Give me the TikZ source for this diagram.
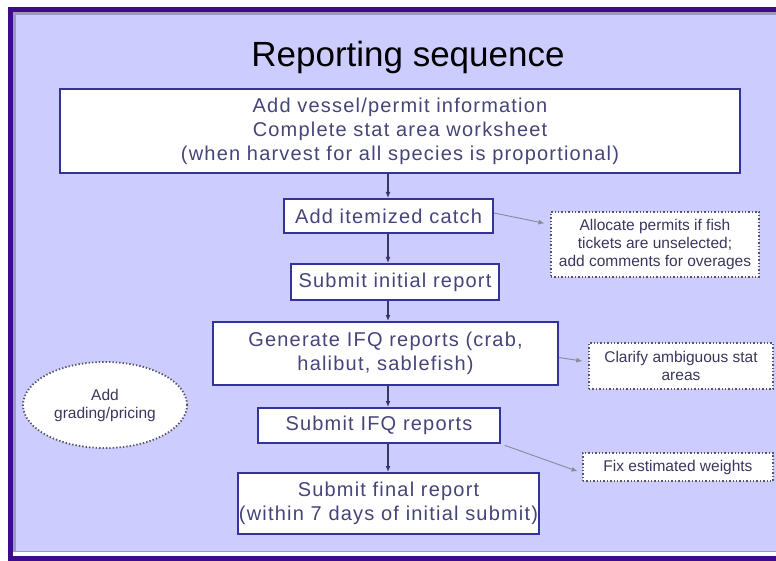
\documentclass[tikz,border=0pt]{standalone}
\usepackage{fontspec}
\setmainfont{Liberation Sans}
\newfontfamily\rsboxfont[LetterSpace=6]{Liberation Sans}
\usetikzlibrary{
  arrows.meta,
  shapes.geometric,
  positioning,
  calc
}
\definecolor{rsBack}{HTML}{CCCCFF}
\definecolor{rsFrame}{HTML}{3D0C8C}
\definecolor{rsShade}{HTML}{9C9AC0}
\definecolor{rsEdge}{HTML}{333399}
\definecolor{rsText}{HTML}{45457A}
\definecolor{rsNoteText}{HTML}{38385E}
\definecolor{rsDot}{HTML}{555566}
\definecolor{rsLink}{HTML}{8A8A9A}
\tikzset{
  rsnode/.style={
    draw=rsEdge, line width=2pt, fill=white, inner sep=0pt, align=center,
    text=rsText, font=\rsboxfont\fontsize{20}{24}\selectfont
  },
  rsnote/.style={
    draw=rsDot, line width=1.4pt, dotted, fill=white, inner sep=0pt, align=center,
    text=rsNoteText, font=\fontsize{15.5}{18}\selectfont
  },
  rsoval/.style={rsnote, ellipse, line width=1.8pt},
  flow/.style={-{Latex[length=6pt,width=5pt]}, line width=1.3pt, draw=rsText!80!black},
  hint/.style={-{Latex[length=6pt,width=5pt]}, line width=0.9pt, draw=rsLink}
}
\begin{document}
\begin{tikzpicture}[x=1pt, y=-1pt]
  \useasboundingbox (0,0) rectangle (776,561);
  % frame and slide background
  \fill[white] (0,0) rectangle (776,561);
  \fill[rsFrame] (8,7) rectangle (776,561);
  \fill[white] (13,12) rectangle (776,556);
  \fill[rsShade] (13,12) rectangle (776,552);
  \fill[rsBack] (16,15) rectangle (776,551);

  \node[font=\fontsize{35}{40}\selectfont] (title) at (408,57) {Reporting sequence};

  % main sequence
  \node[rsnode, minimum width=680pt, minimum height=84pt] (vessel) at (400,131)
    {Add vessel/permit information\\Complete stat area worksheet\\(when harvest for all species is proportional)};
  \node[rsnode, minimum width=209pt, minimum height=34pt] (itemized) at (388.5,216) {Add itemized catch};
  \node[rsnode, minimum width=208pt, minimum height=36pt] (initial) at (395,282) {Submit initial report};
  \node[rsnode, minimum width=345pt, minimum height=63pt] (genifq) at (385.5,353.5)
    {Generate IFQ reports (crab,\\halibut, sablefish)};
  \node[rsnode, minimum width=242pt, minimum height=35pt] (subifq) at (379,425.5) {Submit IFQ reports};
  \node[rsnode, minimum width=301pt, minimum height=61pt] (final) at (388.5,503.5)
    {Submit final report\\(within 7 days of initial submit)};
  \coordinate (spine) at (388,0);

  % side notes
  \node[rsnote, minimum width=208pt, minimum height=65pt] (allocate) at (655,244.5)
    {Allocate permits if fish\\tickets are unselected;\\add comments for overages};
  \node[rsnote, minimum width=184pt, minimum height=46pt] (clarify) at (681,366)
    {Clarify ambiguous stat\\areas};
  \node[rsnote, minimum width=190pt, minimum height=28pt] (weights) at (678,467) {Fix estimated weights};
  \node[rsoval, minimum width=164pt, minimum height=86pt] (grading) at (105,405) {Add\\grading/pricing};

  \draw[flow] (vessel.south -| spine) -- (itemized.north -| spine);
  \draw[flow] (itemized.south -| spine) -- (initial.north -| spine);
  \draw[flow] (initial.south -| spine) -- (genifq.north -| spine);
  \draw[flow] (genifq.south -| spine) -- (subifq.north -| spine);
  \draw[flow] (subifq.south -| spine) -- (final.north -| spine);

  \draw[hint, shorten >=6pt] ([yshift=3pt]itemized.east) -- ([yshift=20pt]allocate.west);
  \draw[hint, shorten >=6pt] ([yshift=-4pt]genifq.east) -- ([yshift=4pt]clarify.west);
  \draw[hint, shorten <=4pt, shorten >=5pt] (subifq.south east) -- ([yshift=-6pt]weights.west);
\end{tikzpicture}
\end{document}
